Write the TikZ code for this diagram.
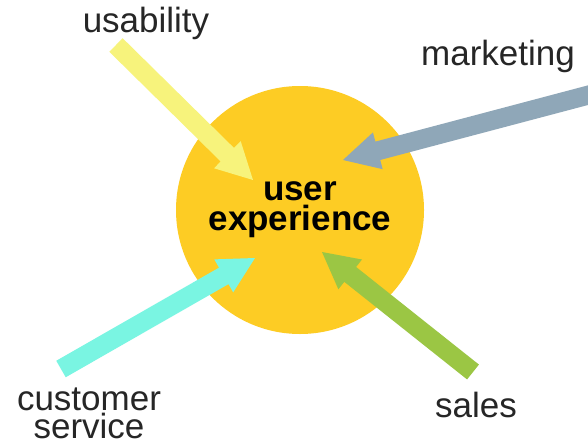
\documentclass[tikz,border=0pt]{standalone}
\usepackage{fontspec}
\setmainfont{Liberation Sans}
\usetikzlibrary{calc}

\definecolor{uxgold}{RGB}{253,204,36}
\definecolor{usayellow}{RGB}{247,243,124}
\definecolor{mktblue}{RGB}{143,167,184}
\definecolor{csaqua}{RGB}{122,245,226}
\definecolor{salesgreen}{RGB}{155,198,68}
\definecolor{labelink}{RGB}{38,38,38}

\tikzset{
  sidelabel/.style={font=\fontsize{35}{28}\selectfont, text=labelink,
    inner sep=0pt, align=center, anchor=base},
  corelabel/.style={font=\bfseries\fontsize{35}{30}\selectfont, text=black,
    inner sep=0pt, align=center, anchor=base},
}

% block arrow: colour, tail coordinate, tip coordinate
\newcommand\uxarrow[3]{%
  \coordinate (#3-back) at ($(#3)!36pt!(#2)$);
  \fill[#1] ($(#2)!9.5pt!90:(#3)$)
    -- ($(#3-back)!9.5pt!-90:(#2)$)
    -- ($(#3-back)!19pt!-90:(#2)$)
    -- (#3)
    -- ($(#3-back)!19pt!90:(#2)$)
    -- ($(#3-back)!9.5pt!90:(#2)$)
    -- ($(#2)!9.5pt!-90:(#3)$) -- cycle;
}

\begin{document}
\begin{tikzpicture}[x=1pt,y=-1pt]
  \useasboundingbox (0,0) rectangle (588,444);
  \fill[white] (0,0) rectangle (588,444);
  \clip (0,0) rectangle (588,444);

  % central circle
  \node[circle, fill=uxgold, minimum size=248pt, inner sep=0pt] (ux) at (300,210) {};

  % outer labels (base = baseline of the last line)
  \node[sidelabel] (usability) at (146,33) {usability};
  \node[sidelabel] (marketing) at (498,65) {marketing};
  \node[sidelabel] (service) at (89,438) {customer\\service};
  \node[sidelabel] (sales) at (476,417) {sales};

  % arrow ends
  \coordinate (usa-tail) at (116,45);
  \coordinate (usa-tip) at (253,180);
  \coordinate (mkt-tail) at (600,92);
  \coordinate (mkt-tip) at (343,160);
  \coordinate (cs-tail) at (61,369);
  \coordinate (cs-tip) at (255,258);
  \coordinate (sales-tail) at (473,372);
  \coordinate (sales-tip) at (322,252);

  \uxarrow{usayellow}{usa-tail}{usa-tip}
  \uxarrow{mktblue}{mkt-tail}{mkt-tip}
  \uxarrow{csaqua}{cs-tail}{cs-tip}
  \uxarrow{salesgreen}{sales-tail}{sales-tip}

  % centre text
  \node[corelabel] (core) at (300,230) {user\\experience};
\end{tikzpicture}
\end{document}
